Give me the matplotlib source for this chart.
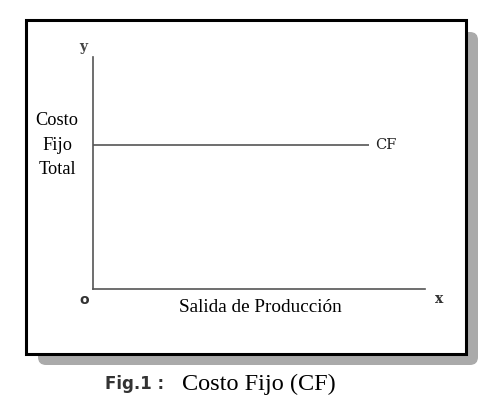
import matplotlib
matplotlib.use('Agg')
import matplotlib.pyplot as plt
from matplotlib.patches import Rectangle, FancyBboxPatch

# Data: fixed cost stays flat across output
output = [0, 8.3]
fixed_cost = [6.2, 6.2]
x_lim = [0, 10]
y_lim = [0, 10]

W, H = 500, 412
fig = plt.figure(figsize=(W / 100, H / 100), dpi=100, facecolor='white')

# background layer in pixel coordinates for the frame, shadow and caption
bg = fig.add_axes([0, 0, 1, 1])
bg.set_xlim(0, W)
bg.set_ylim(H, 0)
bg.axis('off')

bg.add_patch(FancyBboxPatch((38, 32), 440, 333, boxstyle='round,pad=0,rounding_size=8',
                            facecolor='#aaaaaa', edgecolor='none', zorder=1))
bg.add_patch(Rectangle((26, 20), 440, 334, facecolor='white', edgecolor='black',
                       linewidth=2.2, zorder=2))

serif = 'Liberation Serif'
bg.text(57, 145, 'Costo\nFijo\nTotal', ha='center', va='center', fontsize=13.2,
        family=serif, linespacing=1.58, zorder=3)
bg.text(83, 47, 'y', ha='center', va='center', fontsize=10, family='DejaVu Serif',
        color='#444444', fontweight='bold', zorder=3)
bg.text(84, 300, 'o', ha='center', va='center', fontsize=10, family='DejaVu Sans',
        color='#333333', fontweight='bold', zorder=3)
bg.text(439, 299, 'x', ha='center', va='center', fontsize=10, family='DejaVu Serif',
        color='#333333', fontweight='bold', zorder=3)
bg.text(260, 308, 'Salida de Producción', ha='center', va='center', fontsize=13.8,
        family=serif, zorder=3)

bg.text(105, 384, 'Fig.1 :', ha='left', va='center', fontsize=12, family='DejaVu Sans',
        fontweight='bold', color='#333333', zorder=3)
bg.text(182, 384, 'Costo Fijo (CF)', ha='left', va='center', fontsize=17.5,
        family=serif, zorder=3)

# the chart itself
ax = fig.add_axes([93 / W, 1 - 289 / H, 332 / W, 232 / H])
ax.patch.set_alpha(0)
ax.set_xlim(x_lim)
ax.set_ylim(y_lim)
ax.plot(output, fixed_cost, color='#555555', linewidth=1.2, solid_capstyle='butt')
ax.text(output[-1] + 0.2, fixed_cost[-1], 'CF', ha='left', va='center',
        fontsize=10.5, family='DejaVu Serif', color='#222222')

ax.spines['top'].set_visible(False)
ax.spines['right'].set_visible(False)
for s in ['left', 'bottom']:
    ax.spines[s].set_color('#555555')
    ax.spines[s].set_linewidth(1.2)
ax.set_xticks([])
ax.set_yticks([])

fig.savefig('out.png', dpi=100, facecolor='white')
